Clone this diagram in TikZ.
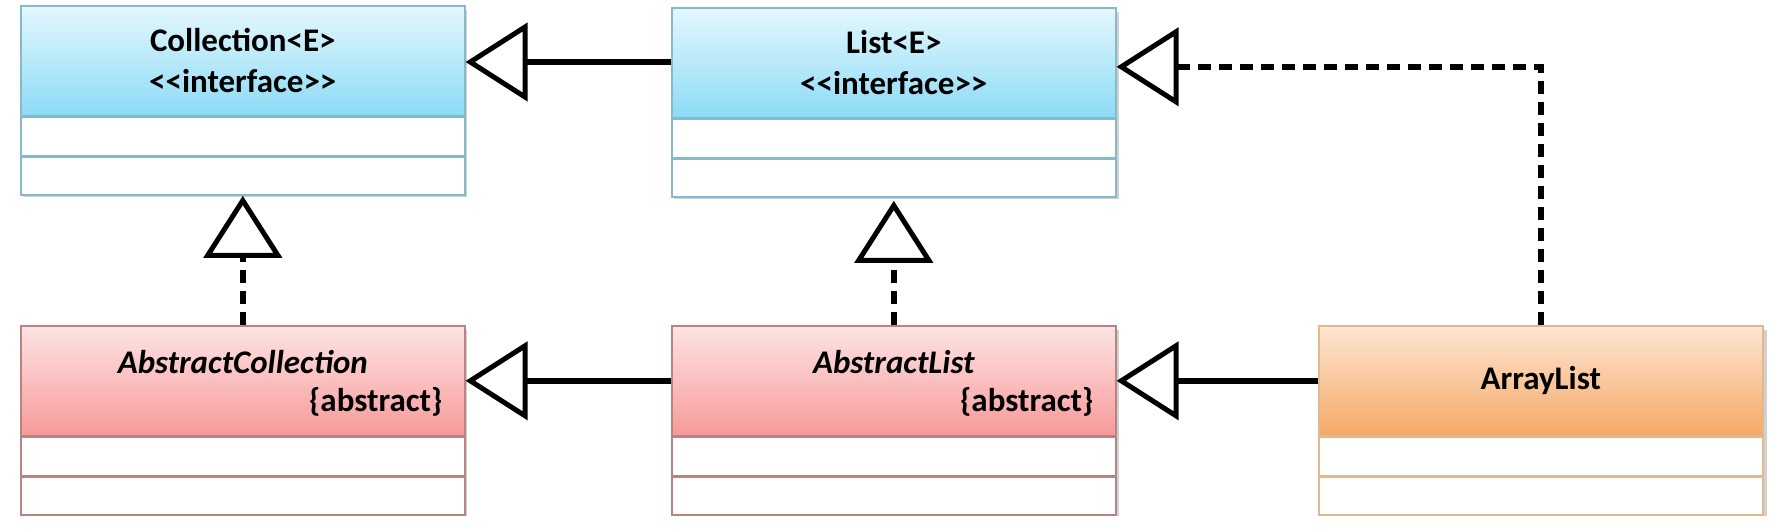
\documentclass[tikz,border=0pt]{standalone}
\usepackage{fontspec}
\setmainfont{Carlito}
\usetikzlibrary{arrows.meta,calc}
\definecolor{ifTop}{HTML}{E4F7FD}
\definecolor{ifBot}{HTML}{8CDBF6}
\definecolor{ifLine}{HTML}{86B9C9}
\definecolor{abTop}{HTML}{FDE4E4}
\definecolor{abBot}{HTML}{F79999}
\definecolor{abLine}{HTML}{B98383}
\definecolor{arTop}{HTML}{FDE6D3}
\definecolor{arBot}{HTML}{F5A866}
\definecolor{arLine}{HTML}{E2B98F}
\definecolor{shade}{HTML}{9A9A9A}
\begin{document}
\begin{tikzpicture}[x=1pt,y=-1pt,
  hdr/.style={draw, line width=1.6pt, minimum width=444pt, minimum height=110pt,
    inner sep=0pt, anchor=north west, align=center,
    font=\bfseries\fontsize{33}{40}\selectfont},
  iface/.style={hdr, draw=ifLine, top color=ifTop, bottom color=ifBot},
  abst/.style={hdr, draw=abLine, top color=abTop, bottom color=abBot},
  conc/.style={hdr, draw=arLine, top color=arTop, bottom color=arBot},
  comp/.style={draw, line width=1.6pt, fill=white, minimum width=444pt,
    minimum height=38pt, inner sep=0pt, anchor=north},
  lbl/.style={inner sep=0pt, font=\bfseries\fontsize{33}{40}\selectfont},
  shadowbox/.style={fill=shade, opacity=0.45},
  gen/.style={line width=5.5pt, -{Triangle[open, fill=white, length=62pt, width=78pt, line width=5pt]}},
  real/.style={gen, dash pattern=on 13pt off 8pt}
]
\useasboundingbox (0,0) rectangle (1782,532);

% shadows
\fill[shadowbox] (23,10) rectangle (467,197);
\fill[shadowbox] (674,12) rectangle (1119,199);
\fill[shadowbox] (23,330) rectangle (467,516);
\fill[shadowbox] (674,330) rectangle (1119,516);
\fill[shadowbox] (1321,330) rectangle (1767,516);

% Collection<E>
\node[iface] (collh) at (20,5) {Collection<E>\\[1pt]<{}<interface>{}>};
\node[comp, draw=ifLine] (colla) at (collh.south) {};
\node[comp, draw=ifLine] (collm) at (colla.south) {};

% List<E>
\node[iface] (listh) at (671,7) {List<E>\\[1pt]<{}<interface>{}>};
\node[comp, draw=ifLine] (lista) at (listh.south) {};
\node[comp, draw=ifLine] (listm) at (lista.south) {};

% AbstractCollection
\node[abst] (acollh) at (20,325) {};
\node[comp, draw=abLine] (acolla) at (acollh.south) {};
\node[comp, draw=abLine] (acollm) at (acolla.south) {};
\node[lbl, font=\bfseries\itshape\fontsize{33}{40}\selectfont] (acolln) at ($(acollh.north)+(0,37)$) {AbstractCollection};
\node[lbl, anchor=east] (acollt) at ($(acollh.north east)+(-23,77)$) {\{abstract\}};

% AbstractList
\node[abst] (alisth) at (671,325) {};
\node[comp, draw=abLine] (alista) at (alisth.south) {};
\node[comp, draw=abLine] (alistm) at (alista.south) {};
\node[lbl, font=\bfseries\itshape\fontsize{33}{40}\selectfont] (alistn) at ($(alisth.north)+(0,37)$) {AbstractList};
\node[lbl, anchor=east] (alistt) at ($(alisth.north east)+(-23,77)$) {\{abstract\}};

% ArrayList
\node[conc] (arrh) at (1318,325) {ArrayList};
\node[comp, draw=arLine] (arra) at (arrh.south) {};
\node[comp, draw=arLine] (arrm) at (arra.south) {};

% connectors
\draw[gen] (listh.west |- 0,62) -- (collh.east |- 0,62);
\draw[gen] (arrh.west) -- (alisth.east);
\draw[gen] (alisth.west) -- (acollh.east);
\draw[real] (acollh.north) -- (collm.south);
\draw[real] (alisth.north) -- ($(listm.south)+(0,3)$);
\draw[real] (arrh.north) |- ($(listh.east)+(0,4)$);
\end{tikzpicture}
\end{document}
